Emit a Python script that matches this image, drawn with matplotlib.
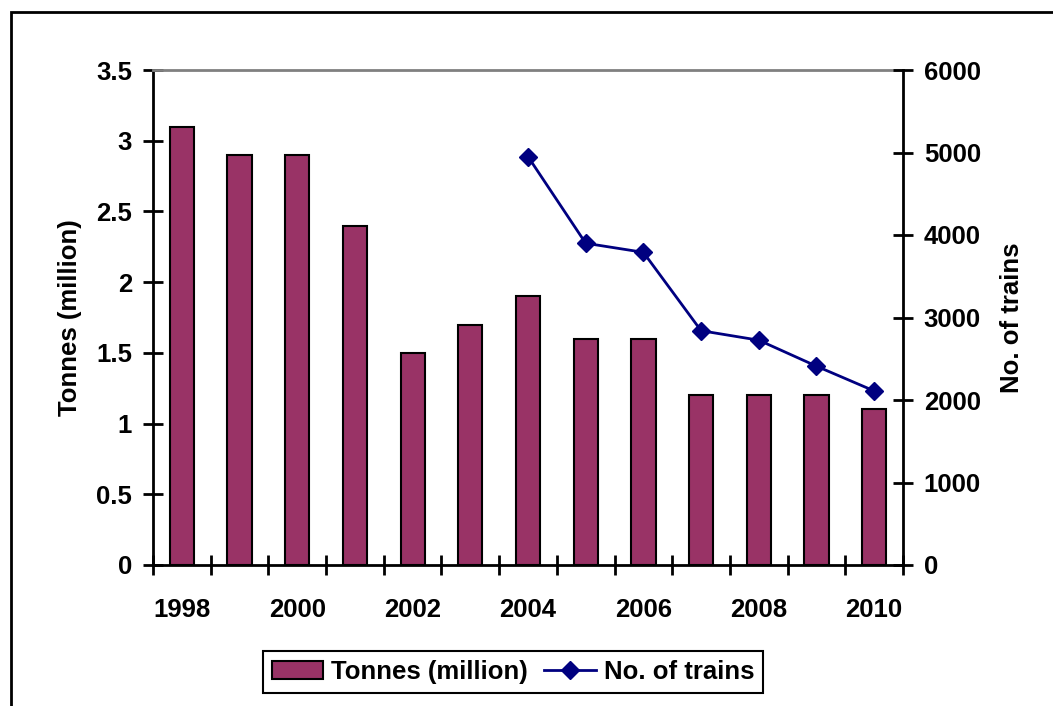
import matplotlib
matplotlib.use("Agg")
import matplotlib.pyplot as plt
from matplotlib.patches import Rectangle

plt.rcParams['font.family'] = ['Liberation Sans', 'DejaVu Sans']
plt.rcParams['font.weight'] = 'bold'

years = [1998, 1999, 2000, 2001, 2002, 2003, 2004, 2005, 2006, 2007, 2008, 2009, 2010]
tonnes = [3.1, 2.9, 2.9, 2.4, 1.5, 1.7, 1.9, 1.6, 1.6, 1.2, 1.2, 1.2, 1.1]
train_years = [2004, 2005, 2006, 2007, 2008, 2009, 2010]
trains = [4950, 3900, 3790, 2840, 2725, 2410, 2110]

bar_color = "#993366"
line_color = "#000080"
fs = 18.5

fig = plt.figure(figsize=(10.53, 7.06), dpi=100)
ax = fig.add_axes([153 / 1053, 1 - 565 / 706, 750 / 1053, 495 / 706])

x = list(range(len(years)))
ax.bar(x, tonnes, width=0.42, color=bar_color, edgecolor="black", linewidth=1.5,
       label="Tonnes (million)", zorder=2)
ax.set_xlim(-0.5, len(years) - 0.5)
ax.set_ylim(0, 3.5)
ax.set_yticks([0, 0.5, 1, 1.5, 2, 2.5, 3, 3.5])
ax.set_yticklabels(["0", "0.5", "1", "1.5", "2", "2.5", "3", "3.5"])
ax.set_xticks([i - 0.5 for i in range(len(years) + 1)])
ax.set_xticklabels([])
ax.set_xticks([i for i in x if years[i] % 2 == 0], minor=True)
ax.set_xticklabels([str(years[i]) for i in x if years[i] % 2 == 0], minor=True)
ax.tick_params(axis="x", which="major", direction="inout", length=14, width=2)
ax.tick_params(axis="x", which="minor", length=0, pad=24, labelsize=fs)
ax.tick_params(axis="y", direction="inout", length=14, width=2, labelsize=fs, pad=8)
ax.set_ylabel("Tonnes (million)", fontsize=fs, fontweight="bold", labelpad=10)
for s in ["left", "bottom"]:
    ax.spines[s].set_linewidth(2)
ax.spines["top"].set_color("#808080")
ax.spines["top"].set_linewidth(2)
ax.spines["right"].set_visible(False)

ax2 = ax.twinx()
tx = [years.index(y) for y in train_years]
ax2.plot(tx, trains, color=line_color, linewidth=2, marker="D", markersize=9,
         label="No. of trains", zorder=3)
ax2.set_ylim(0, 6000)
ax2.set_yticks(range(0, 6001, 1000))
ax2.tick_params(axis="y", direction="inout", length=14, width=2, labelsize=fs, pad=8)
ax2.set_ylabel("No. of trains", fontsize=fs, fontweight="bold", labelpad=14)
ax2.spines["right"].set_linewidth(2)
for s in ["left", "top", "bottom"]:
    ax2.spines[s].set_visible(False)

h1, l1 = ax.get_legend_handles_labels()
h2, l2 = ax2.get_legend_handles_labels()
leg = fig.legend(h1 + h2, l1 + l2, loc="center", bbox_to_anchor=(513 / 1053, 1 - 672 / 706),
                 ncol=2, fontsize=fs, fancybox=False, edgecolor="black", framealpha=1,
                 handlelength=2.0, handletextpad=0.3, columnspacing=0.65,
                 borderpad=0.35, borderaxespad=0)
leg.get_frame().set_linewidth(1.5)

# outer chart border (runs off right and bottom edges)
fig.patches.append(Rectangle((11 / 1053, -0.1), 1.2, 1.1 - 12 / 706, transform=fig.transFigure,
                             fill=False, edgecolor="black", linewidth=2))

fig.savefig("out.png", dpi=100)
